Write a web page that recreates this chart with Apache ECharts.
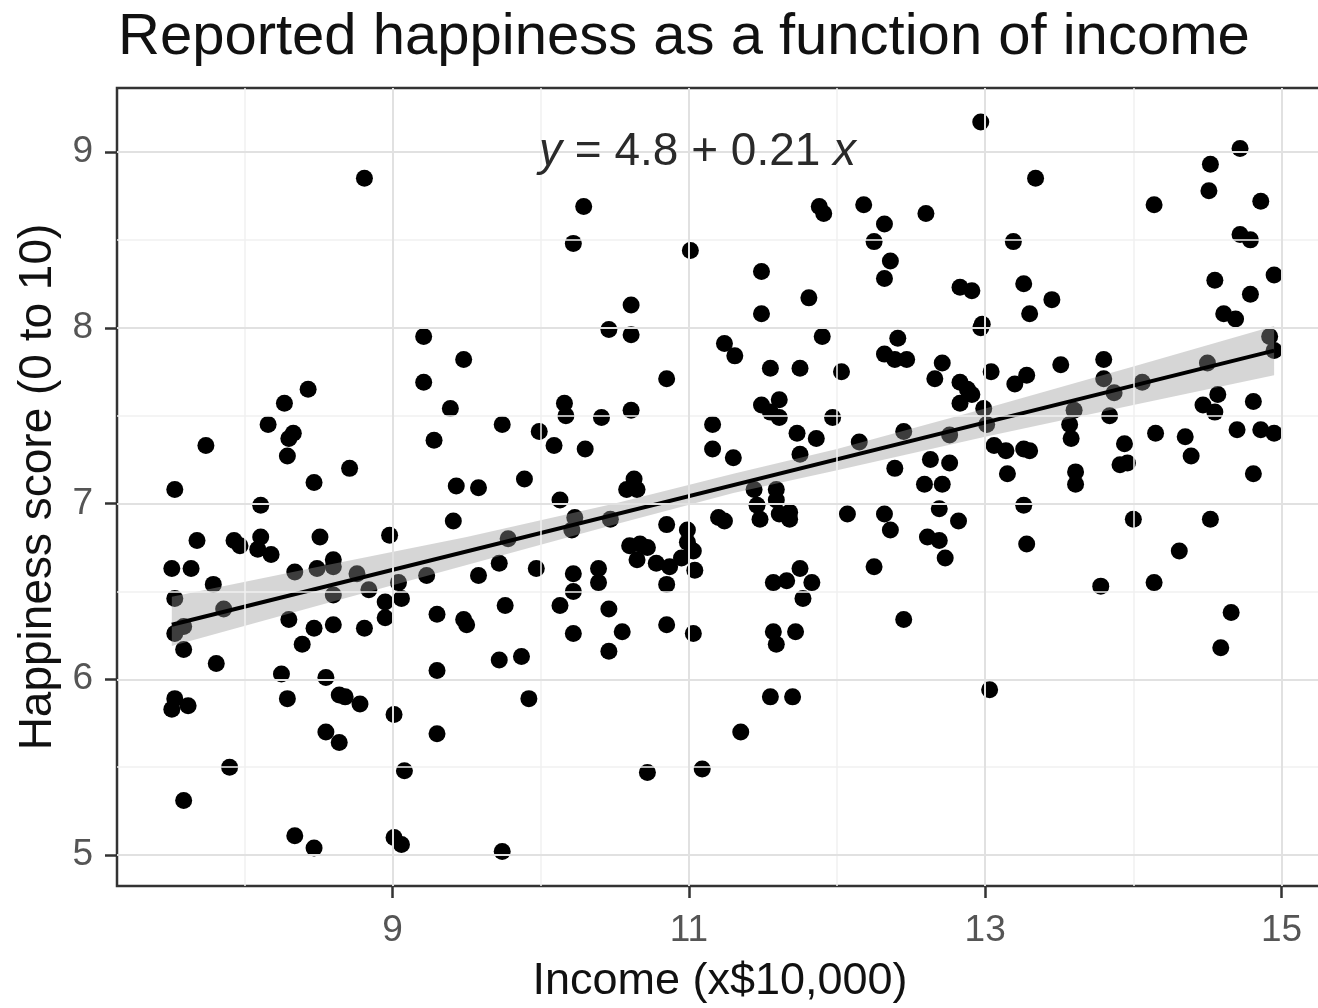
<!DOCTYPE html>
<html>
<head>
<meta charset="utf-8">
<title>Reported happiness as a function of income</title>
<script src="https://cdn.jsdelivr.net/npm/echarts@6/dist/echarts.min.js"></script>
<style>
  html, body { margin: 0; padding: 0; background: #fff; }
  #chart { width: 1318px; height: 1008px; }
</style>
</head>
<body>
<div id="chart"></div>
<script>
// income (x$10,000) and happiness score
var income = [
  8.81, 9.21, 9.48, 9.21, 9.39, 9.74, 9.28, 8.43, 8.27, 8.16,
  8.33, 8.30, 8.29, 7.74, 8.71, 8.47, 9.43, 9.58, 7.53,
  8.11, 7.68, 7.93, 7.97, 8.11, 8.09, 8.18, 8.51, 8.98, 9.41,
  7.51, 7.64, 7.79, 7.53, 7.86, 7.59, 7.53, 7.59, 7.81, 8.34,
  8.49, 8.60, 8.60, 8.76, 8.60, 8.84, 9.04, 9.23, 9.58, 9.72,
  9.76, 8.95, 9.06, 8.95, 8.30, 8.47, 8.60, 8.81, 9.30, 9.48,
  9.50, 8.39, 9.72, 9.30, 8.25, 8.55, 7.53, 7.51, 7.62, 8.29,
  8.64, 8.68, 8.78, 9.01, 8.55, 8.64, 9.30, 7.90, 9.08, 7.59,
  8.34, 8.47, 9.01, 9.06, 9.74, 9.78,
  10.29, 10.22, 11.01, 10.61, 10.46, 10.61, 10.85, 10.16, 10.17, 10.41,
  10.61, 9.99, 10.09, 10.30, 9.89, 11.49, 11.49, 11.81, 11.88, 11.91,
  12.18, 12.32, 12.25, 12.36, 12.32, 11.24, 11.31, 11.90, 12.41, 12.32,
  12.39, 12.47, 11.55, 11.75, 12.03, 11.49, 11.61, 11.55, 11.61, 11.16,
  11.97, 11.73, 11.86, 11.16, 11.30, 11.75, 12.15, 12.45, 12.39,
  10.13, 10.58, 10.65, 10.23, 10.47, 10.85, 10.99, 11.20, 11.24, 11.46,
  11.48, 11.59, 11.61, 11.68, 11.68, 11.44, 11.59, 10.60, 10.67, 10.72,
  10.65, 10.78, 10.87, 10.85, 10.95, 11.03, 11.04, 10.99, 9.97, 10.22,
  10.39, 10.39, 10.22, 10.13, 10.46, 10.22, 10.55, 10.46, 10.85, 11.03,
  9.87, 9.92, 11.57, 11.66, 11.75, 11.83, 11.77, 11.57, 11.59, 11.72,
  11.55, 11.70, 11.35, 10.72, 11.09, 12.07, 12.32, 12.36, 12.25, 12.45,
  10.63, 10.21,
  12.97, 13.34, 12.60, 13.19, 12.83, 12.91, 13.26, 13.45, 13.30, 12.98,
  12.97, 12.71, 12.66, 12.83, 12.88, 12.91, 12.83, 13.04, 13.20, 13.28,
  13.51, 13.80, 12.99, 13.01, 12.76, 13.06, 13.14, 13.26, 13.30, 12.63,
  12.76, 13.15, 12.59, 12.71, 13.60, 13.57, 13.58, 13.61, 13.61, 13.80,
  13.87, 13.84, 13.94, 13.91, 13.96, 14.06, 14.15, 14.35, 14.39, 14.14,
  14.52, 14.72, 14.51, 14.86, 14.72, 14.79, 14.95, 14.55, 14.79, 14.61,
  14.69, 14.92, 14.95, 14.50, 14.57, 14.47, 14.55, 14.81, 14.70, 14.86,
  14.95, 14.81, 12.69, 12.82, 12.61, 12.69, 12.73, 13.26, 13.28, 14.00,
  14.52, 14.31, 13.78, 14.14, 14.66, 14.59, 13.03
];
var happiness = [
  8.85, 7.95, 7.82, 7.69, 7.54, 7.45, 7.36, 7.65, 7.57, 7.45,
  7.40, 7.37, 7.27, 7.33, 7.20, 7.12, 7.10, 7.09, 7.08,
  6.99, 6.79, 6.79, 6.76, 6.81, 6.74, 6.71, 6.81, 6.82, 6.90,
  6.63, 6.63, 6.54, 6.46, 6.40, 6.30, 6.26, 6.17, 6.09, 6.61,
  6.63, 6.68, 6.64, 6.60, 6.48, 6.51, 6.55, 6.59, 6.59, 6.66,
  6.42, 6.44, 6.46, 6.35, 6.34, 6.29, 6.31, 6.29, 6.37, 6.34,
  6.31, 6.20, 6.11, 6.05, 6.03, 6.01, 5.89, 5.83, 5.85, 5.89,
  5.91, 5.90, 5.86, 5.80, 5.70, 5.64, 5.69, 5.50, 5.48, 5.31,
  5.11, 5.04, 5.10, 5.06, 5.02, 6.80,
  8.69, 8.48, 8.44, 8.13, 7.99, 7.96, 7.71, 7.57, 7.50, 7.49,
  7.53, 7.41, 7.33, 7.31, 7.14, 8.32, 8.08, 8.17, 8.69, 8.65,
  8.70, 8.59, 8.49, 8.38, 8.28, 7.91, 7.84, 7.95, 7.94, 7.85,
  7.82, 7.82, 7.77, 7.77, 7.75, 7.56, 7.59, 7.52, 7.49, 7.45,
  7.49, 7.40, 7.37, 7.31, 7.26, 7.28, 7.35, 7.41, 7.20,
  7.02, 7.08, 7.08, 6.92, 6.91, 6.88, 6.85, 6.92, 6.90, 6.99,
  6.91, 7.02, 6.94, 6.95, 6.91, 7.08, 7.08, 6.76, 6.77, 6.75,
  6.68, 6.66, 6.64, 6.54, 6.69, 6.73, 6.62, 6.78, 6.63, 6.60,
  6.63, 6.55, 6.50, 6.42, 6.40, 6.26, 6.27, 6.16, 6.31, 6.26,
  6.13, 5.89, 6.55, 6.56, 6.63, 6.55, 6.46, 6.27, 6.20, 6.27,
  5.90, 5.90, 5.70, 5.47, 5.49, 6.94, 6.94, 6.85, 6.64, 6.34,
  7.14, 6.85,
  9.17, 8.85, 8.65, 8.49, 8.23, 8.21, 8.25, 8.16, 8.08, 8.02,
  8.00, 7.80, 7.71, 7.69, 7.65, 7.62, 7.57, 7.75, 7.68, 7.73,
  7.79, 7.82, 7.54, 7.45, 7.39, 7.33, 7.30, 7.31, 7.30, 7.25,
  7.23, 7.17, 7.11, 7.11, 7.53, 7.45, 7.37, 7.18, 7.11, 7.71,
  7.63, 7.50, 7.34, 7.22, 7.23, 7.69, 7.40, 7.38, 7.27, 8.70,
  8.93, 9.02, 8.78, 8.72, 8.53, 8.50, 8.30, 8.27, 8.19, 8.08,
  8.05, 7.95, 7.87, 7.80, 7.62, 7.56, 7.52, 7.58, 7.42, 7.42,
  7.40, 7.17, 6.97, 6.90, 6.81, 6.79, 6.69, 6.99, 6.77, 6.91,
  6.91, 6.73, 6.53, 6.55, 6.38, 6.18, 5.94
];

// fitted line ends and the grey confidence band
var fitX = [7.51, 14.95];
var fitY = [6.31, 7.87];
var bandX = [7.51, 8.5, 9.5, 10.5, 11.3, 12.0, 13.0, 14.0, 14.95];
var bandLow = [6.19, 6.42, 6.65, 6.88, 7.06, 7.19, 7.38, 7.56, 7.73];
var bandHigh = [6.47, 6.64, 6.81, 7.00, 7.17, 7.31, 7.54, 7.78, 8.01];

var xTicks = [9, 11, 13, 15];
var xMinor = [8, 10, 12, 14];
var yTicks = [5, 6, 7, 8, 9];
var yMinor = [5.5, 6.5, 7.5, 8.5];

var font = '"Liberation Sans", Arial, sans-serif';
var chart = echarts.init(document.getElementById('chart'));

var points = income.map(function (x, i) { return [x, happiness[i]]; });

function gridLines(values, axis, color, width) {
  return values.map(function (v) {
    var item = { lineStyle: { color: color, width: width, type: 'solid' } };
    item[axis] = v;
    return item;
  });
}

var option = {
  animation: false,
  backgroundColor: '#fff',
  title: [
    {
      text: 'Reported happiness as a function of income',
      left: 113, top: 4,
      textStyle: { fontFamily: font, fontSize: 58, fontWeight: 'normal', color: '#111' }
    },
    {
      text: '{i|y} = 4.8 + 0.21 {i|x}',
      left: 534, top: 124,
      textStyle: {
        fontFamily: font, fontSize: 46, fontWeight: 'normal', color: '#2a2a2a',
        rich: { i: { fontFamily: font, fontSize: 46, fontStyle: 'italic', color: '#2a2a2a' } }
      }
    }
  ],
  grid: {
    left: 117, top: 88, width: 1206, height: 798,
    outerBoundsMode: 'none',
    show: true, borderColor: '#333', borderWidth: 2.5, backgroundColor: 'transparent'
  },
  xAxis: {
    type: 'value', min: 7.14, max: 15.28,
    name: 'Income (x$10,000)', nameLocation: 'middle', nameGap: 73,
    nameTextStyle: { fontFamily: font, fontSize: 45, color: '#111' },
    axisLine: { show: false },
    splitLine: { show: false },
    axisTick: { show: true, length: 12, customValues: xTicks, lineStyle: { color: '#333', width: 2.5 } },
    axisLabel: { customValues: xTicks, margin: 26, fontFamily: font, fontSize: 37, color: '#555' }
  },
  yAxis: {
    type: 'value', min: 4.824, max: 9.364,
    name: 'Happiness score (0 to 10)', nameLocation: 'middle', nameGap: 55,
    nameTextStyle: { fontFamily: font, fontSize: 46, color: '#111' },
    axisLine: { show: false },
    splitLine: { show: false },
    axisTick: { show: true, length: 12, customValues: yTicks, lineStyle: { color: '#333', width: 2.5 } },
    axisLabel: { customValues: yTicks, margin: 24, fontFamily: font, fontSize: 37, color: '#555' }
  },
  series: [
    {
      // panel grid lines
      type: 'scatter', data: [], silent: true, z: 1,
      markLine: {
        silent: true, symbol: 'none', animation: false,
        label: { show: false },
        emphasis: { disabled: true },
        data: gridLines(xMinor, 'xAxis', '#f1f1f1', 1.5)
          .concat(gridLines(yMinor, 'yAxis', '#f1f1f1', 1.5))
          .concat(gridLines(xTicks, 'xAxis', '#e1e1e1', 2))
          .concat(gridLines(yTicks, 'yAxis', '#e1e1e1', 2))
      }
    },
    {
      type: 'scatter', data: points, z: 2,
      symbolSize: 17,
      itemStyle: { color: '#000', opacity: 1 },
      emphasis: { disabled: true }
    },
    {
      type: 'custom', z: 3, silent: true,
      data: [[bandX[0], bandLow[0]]],
      renderItem: function (params, api) {
        var pts = [];
        for (var i = 0; i < bandX.length; i++) pts.push(api.coord([bandX[i], bandHigh[i]]));
        for (var j = bandX.length - 1; j >= 0; j--) pts.push(api.coord([bandX[j], bandLow[j]]));
        return { type: 'polygon', shape: { points: pts }, style: { fill: 'rgba(153,153,153,0.4)' } };
      }
    },
    {
      type: 'line', z: 4, silent: true,
      data: [[fitX[0], fitY[0]], [fitX[1], fitY[1]]],
      symbol: 'none',
      lineStyle: { color: '#000', width: 4 }
    }
  ]
};

chart.setOption(option);
</script>
</body>
</html>
